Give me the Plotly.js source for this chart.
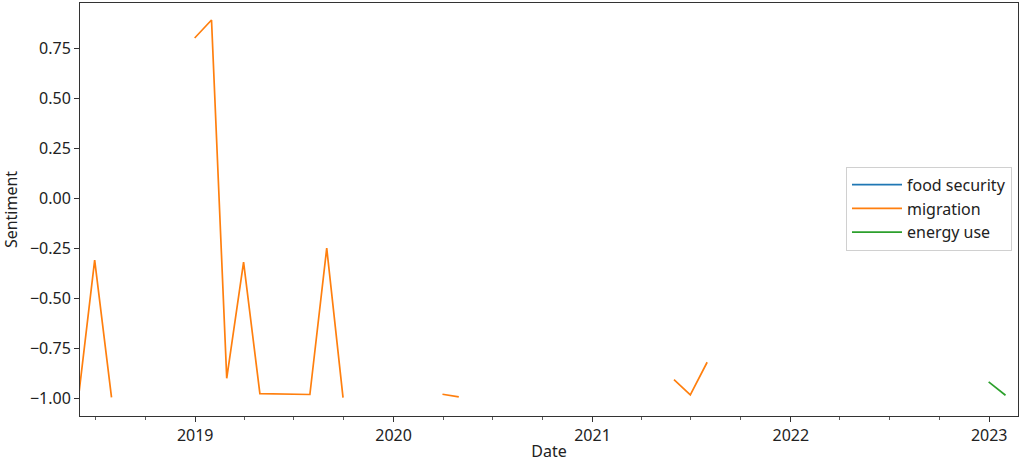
<!DOCTYPE html>
<html>
<head>
<meta charset="utf-8">
<script src="https://cdn.plot.ly/plotly-3.0.1.min.js"></script>
<style>html,body{margin:0;padding:0;background:#fff}#chart{width:1024px;height:462px}</style>
</head>
<body>
<div id="chart"></div>
<script>
// Month-end dates; null marks a gap in the series
const migrationDates = [
  '2018-05-31','2018-06-30','2018-07-31','2018-08-31',
  '2018-12-31','2019-01-31','2019-02-28','2019-03-31','2019-04-30','2019-05-31',
  '2019-06-30','2019-07-31','2019-08-31','2019-09-30','2019-10-31',
  '2020-03-31','2020-04-30','2020-05-31',
  '2021-05-31','2021-06-30','2021-07-31'
];
const migrationValues = [
  -1.00, -0.31, -0.995, null,
  0.80, 0.89, -0.90, -0.32, -0.977, -0.978,
  -0.979, -0.981, -0.25, -0.997, null,
  -0.98, -0.993, null,
  -0.907, -0.983, -0.82
];
const energyDates = ['2022-12-31','2023-01-31'];
const energyValues = [-0.918, -0.985];
const foodDates = ['2018-05-31','2023-01-31'];
const foodValues = [null, null];

const seriesNames = ['food security','migration','energy use'];
const seriesColors = ['#1f77b4','#ff7f0e','#2ca02c'];

const FONT = 'Noto Sans, DejaVu Sans, sans-serif';
const FS = 16;

const traces = [
  {x: foodDates, y: foodValues, name: seriesNames[0], mode: 'lines', line: {color: seriesColors[0], width: 1.7}, connectgaps: false},
  {x: migrationDates, y: migrationValues, name: seriesNames[1], mode: 'lines', line: {color: seriesColors[1], width: 1.7}, connectgaps: false},
  {x: energyDates, y: energyValues, name: seriesNames[2], mode: 'lines', line: {color: seriesColors[2], width: 1.7}, connectgaps: false}
];

const layout = {
  width: 1024, height: 462,
  margin: {l: 80, r: 6, t: 3, b: 46},
  paper_bgcolor: '#fff', plot_bgcolor: '#fff',
  font: {family: FONT, size: FS, color: '#222'},
  showlegend: true,
  legend: {
    x: 0.9936, xanchor: 'right', y: 0.502, yanchor: 'middle',
    bgcolor: 'rgba(255,255,255,0.8)', bordercolor: '#d0d0d0', borderwidth: 1,
    font: {family: FONT, size: FS, color: '#222'},
    tracegroupgap: 0, itemwidth: 50
  },
  xaxis: {
    type: 'date',
    range: ['2018-06-03', '2023-02-23'],
    tick0: '2019-01-01', dtick: 'M12', tickformat: '%Y',
    ticks: 'outside', ticklen: 5, tickwidth: 1, tickcolor: '#333',
    minor: {dtick: 'M3', tick0: '2019-01-01', ticks: 'outside', ticklen: 3, tickwidth: 0.8, tickcolor: '#333', showgrid: false},
    showgrid: false, zeroline: false,
    showline: true, linecolor: '#333', linewidth: 1, mirror: true,
    title: {text: 'Date', font: {family: FONT, size: FS, color: '#222'}, standoff: 2},
    automargin: false
  },
  yaxis: {
    range: [-1.0885, 0.975],
    tickvals: [-1.0, -0.75, -0.5, -0.25, 0, 0.25, 0.5, 0.75],
    ticktext: ['\u22121.00','\u22120.75','\u22120.50','\u22120.25','0.00','0.25','0.50','0.75'],
    ticks: 'outside', ticklen: 5, tickwidth: 1, tickcolor: '#333',
    showgrid: false, zeroline: false,
    showline: true, linecolor: '#333', linewidth: 1, mirror: true,
    title: {text: 'Sentiment', font: {family: FONT, size: FS, color: '#222'}, standoff: 10},
    automargin: false
  }
};

Plotly.newPlot('chart', traces, layout, {staticPlot: true, displayModeBar: false});
</script>
</body>
</html>
